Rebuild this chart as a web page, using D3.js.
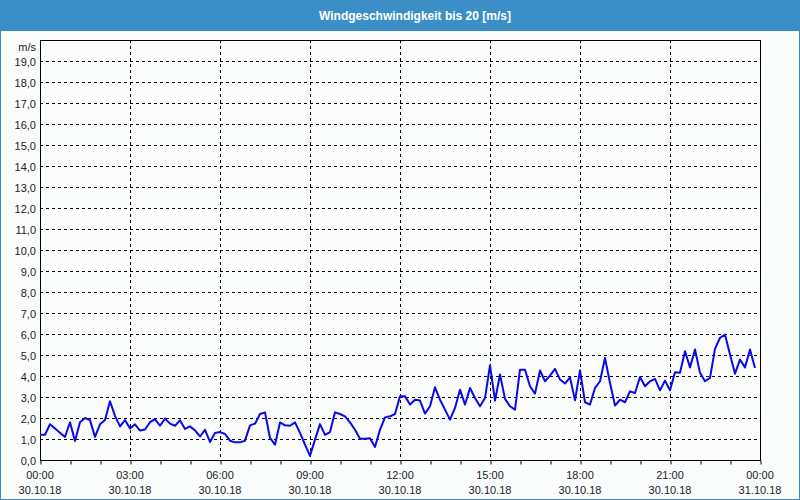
<!DOCTYPE html>
<html><head><meta charset="utf-8">
<script src="https://cdn.jsdelivr.net/npm/d3@7"></script>
<style>html,body{margin:0;padding:0;background:#fff;}svg{display:block;}</style>
</head><body>
<script>
const title = "Windgeschwindigkeit bis 20 [m/s]";
const unitLabel = "m/s";
const startTime = "2018-10-30T00:00:00";
const endTime = "2018-10-31T00:00:00";
const stepMinutes = 10;
const windSpeed = [
 1.2,1.2,1.7,1.5,1.3,1.1,1.8,0.9,1.8,2.0,1.9,1.1,1.7,1.9,2.8,2.1,1.6,1.9,1.5,1.7,1.4,1.45,1.8,1.95,
 1.63,1.97,1.73,1.63,1.89,1.48,1.6,1.41,1.12,1.44,0.86,1.29,1.33,1.24,0.92,0.84,0.84,0.92,1.65,1.73,2.19,2.27,1.05,0.73,
 1.79,1.65,1.63,1.79,1.29,0.73,0.2,0.97,1.71,1.2,1.33,2.27,2.19,2.08,1.79,1.44,1.01,1.01,1.04,0.62,1.44,2.03,2.08,2.19,
 3.03,3.03,2.64,2.87,2.83,2.21,2.56,3.46,2.87,2.4,1.92,2.48,3.35,2.64,3.43,2.95,2.56,2.95,4.51,2.83,4.07,2.91,2.56,2.4,
 4.3,4.3,3.51,3.16,4.26,3.75,4.02,4.34,3.83,3.64,3.94,2.84,4.27,2.75,2.64,3.43,3.75,4.86,3.67,2.59,2.87,2.75,3.27,3.19,
 3.95,3.51,3.75,3.86,3.32,3.78,3.32,4.18,4.15,5.18,4.41,5.26,4.15,3.75,3.91,5.29,5.82,5.97,5.02,4.11,4.78,4.41,5.26,4.38
];
const yTicks = [0,1,2,3,4,5,6,7,8,9,10,11,12,13,14,15,16,17,18,19];
const xTickTimes = ["00:00","03:00","06:00","09:00","12:00","15:00","18:00","21:00","00:00"];
const xTickDates = ["30.10.18","30.10.18","30.10.18","30.10.18","30.10.18","30.10.18","30.10.18","30.10.18","31.10.18"];

const W = 800, H = 500;
const M = {left:40, right:760, top:40, bottom:460};
const svg = d3.select("body").append("svg").attr("width",W).attr("height",H);
const font = "Tahoma, 'Liberation Sans', Arial, sans-serif";
const fs = "11px";

svg.append("rect").attr("x",0).attr("y",0).attr("width",W).attr("height",H).attr("fill","#fbfdfc");
svg.append("rect").attr("x",0.5).attr("y",0.5).attr("width",W-1).attr("height",H-1)
  .attr("fill","none").attr("stroke","#3c8fc6");
svg.append("rect").attr("x",0).attr("y",0).attr("width",W).attr("height",31).attr("fill","#3c8fc6");
svg.append("text").attr("x",415).attr("y",16).attr("text-anchor","middle").attr("dominant-baseline","central")
  .attr("fill","#fff").attr("font-family",font).attr("font-weight","bold").attr("font-size","12px").text(title);

const t0 = new Date(startTime), t1 = new Date(endTime);
const x = d3.scaleTime().domain([t0,t1]).range([M.left, M.right]);
const y = d3.scaleLinear().domain([0,20]).range([M.bottom, M.top]);
const data = windSpeed.map((v,i)=>({t:new Date(t0.getTime()+i*stepMinutes*60000), v}));

// horizontal grid
svg.append("g").selectAll("line").data(yTicks.filter(d=>d>0)).join("line")
  .attr("x1",M.left).attr("x2",M.right)
  .attr("y1",d=>Math.round(y(d))+0.5).attr("y2",d=>Math.round(y(d))+0.5)
  .attr("stroke","#000").attr("stroke-dasharray","3,3");
// vertical grid
const majors = d3.timeHour.every(3).range(t0, t1);
svg.append("g").selectAll("line").data(majors.slice(1)).join("line")
  .attr("x1",d=>Math.round(x(d))+0.5).attr("x2",d=>Math.round(x(d))+0.5)
  .attr("y1",M.top).attr("y2",M.bottom)
  .attr("stroke","#000").attr("stroke-dasharray","3,3");

// x axis with hourly ticks
const xAxis = d3.axisBottom(x).ticks(d3.timeHour.every(1)).tickSize(4).tickFormat("");
const gx = svg.append("g").attr("transform",`translate(0.5,${M.bottom+0.5})`).call(xAxis);
gx.select(".domain").remove();
gx.selectAll("line").attr("stroke","#000");

// frame
svg.append("rect").attr("x",M.left+0.5).attr("y",M.top+0.5)
  .attr("width",M.right-M.left).attr("height",M.bottom-M.top)
  .attr("fill","none").attr("stroke","#000");

// y labels
const yAxis = d3.axisLeft(y).tickValues(yTicks).tickSize(0).tickPadding(4)
  .tickFormat(d=>d3.format(".1f")(d).replace(".",","));
const gy = svg.append("g").attr("transform",`translate(${M.left},0.5)`).call(yAxis);
gy.select(".domain").remove();
gy.selectAll("text").attr("font-family",font).attr("font-size",fs).attr("fill","#1a1a2a");
svg.append("text").attr("x",36).attr("y",47).attr("text-anchor","end").attr("dominant-baseline","central")
  .attr("font-family",font).attr("font-size",fs).attr("fill","#1a1a2a").text(unitLabel);

// x labels
const labelTimes = d3.timeHour.every(3).range(t0, new Date(t1.getTime()+1));
const gl = svg.append("g").selectAll("g").data(labelTimes).join("g")
  .attr("transform",d=>`translate(${x(d)},0)`);
gl.append("text").attr("y",475).attr("text-anchor","middle").attr("dominant-baseline","central")
  .attr("font-family",font).attr("font-size",fs).attr("fill","#1a1a2a").text((d,i)=>xTickTimes[i]);
gl.append("text").attr("y",490).attr("text-anchor","middle").attr("dominant-baseline","central")
  .attr("font-family",font).attr("font-size",fs).attr("fill","#1a1a2a").text((d,i)=>xTickDates[i]);

// line
svg.append("path").datum(data)
  .attr("d", d3.line().x(d=>x(d.t)).y(d=>y(d.v)))
  .attr("fill","none").attr("stroke","#0a0ae6").attr("stroke-width",2).attr("stroke-linejoin","round");
</script>
</body></html>
